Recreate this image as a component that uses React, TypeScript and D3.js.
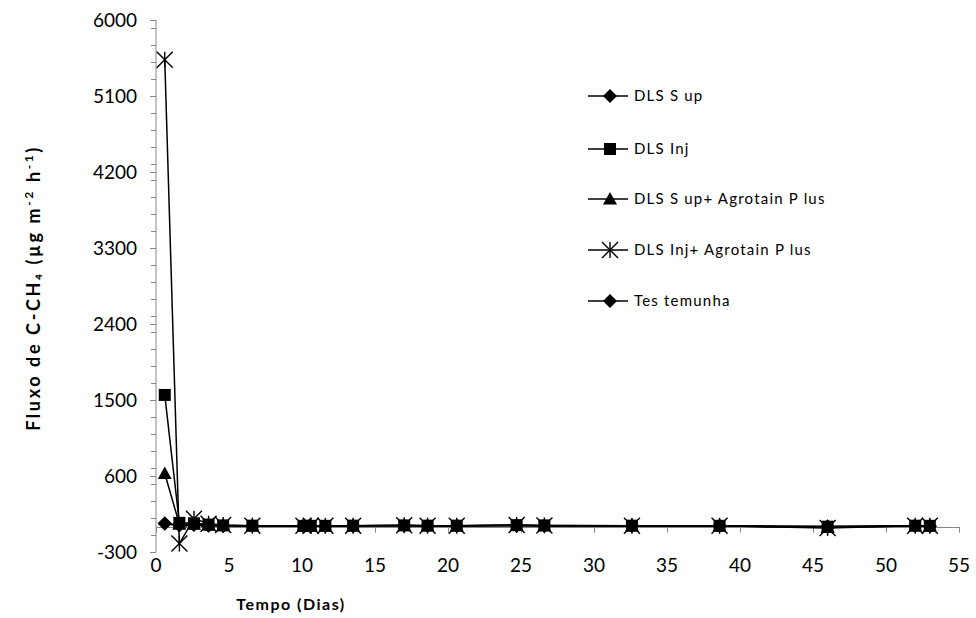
import React from "react";
import * as d3 from "d3";

// Sampling days (Tempo, dias)
const days = [0.6, 1.6, 2.6, 3.6, 4.6, 6.6, 10.1, 10.6, 11.6, 13.5, 17, 18.6, 20.6, 24.7, 26.6, 32.6, 38.6, 46, 52, 53];

// C-CH4 flux per treatment (µg m-2 h-1)
const dlsSup = [40, 20, 25, 15, 10, 10, 8, 8, 8, 10, 15, 12, 10, 15, 12, 10, 10, 5, 10, 8];
const dlsInj = [1560, 45, 40, 25, 15, 12, 10, 10, 10, 12, 15, 12, 12, 18, 15, 12, 10, 0, 12, 10];
const dlsSupAgro = [630, 30, 30, 20, 15, 10, 10, 8, 10, 10, 15, 12, 10, 15, 12, 10, 10, -10, 10, 8];
const dlsInjAgro = [5530, -200, 95, 35, 20, 12, 10, 10, 10, 12, 18, 12, 12, 20, 15, 12, 10, -15, 10, 10];
const testemunha = [35, 15, 20, 10, 8, 8, 5, 5, 5, 8, 10, 8, 8, 10, 8, 8, 8, -5, 8, 6];

const seriesNames = ["DLS S up", "DLS Inj", "DLS S up+ Agrotain P lus", "DLS Inj+ Agrotain P lus", "Tes temunha"];
const seriesMarkers = ["diamond", "square", "triangle", "star", "diamond"];

const yTicks = [-300, 600, 1500, 2400, 3300, 4200, 5100, 6000];
const xTicks = [0, 5, 10, 15, 20, 25, 30, 35, 40, 45, 50, 55];

const axisColor = "#868686";
const font = "Lato, 'Open Sans', sans-serif";

function Marker({ type, x, y }: { type: string; x: number; y: number }) {
  if (type === "diamond") {
    const r = 7;
    return <path d={`M${x},${y - r}L${x + r},${y}L${x},${y + r}L${x - r},${y}Z`} fill="#000" />;
  }
  if (type === "square") {
    const h = 6;
    return <rect x={x - h} y={y - h} width={2 * h} height={2 * h} fill="#000" />;
  }
  if (type === "triangle") {
    const h = 7;
    return <path d={`M${x},${y - h}L${x + h},${y + h * 0.8}L${x - h},${y + h * 0.8}Z`} fill="#000" />;
  }
  const r = 8;
  return (
    <g stroke="#000" strokeWidth={1.4}>
      <line x1={x - r} y1={y - r} x2={x + r} y2={y + r} />
      <line x1={x - r} y1={y + r} x2={x + r} y2={y - r} />
      <line x1={x} y1={y - r} x2={x} y2={y + r} />
    </g>
  );
}

export default function App() {
  const width = 976;
  const height = 618;
  const x = d3.scaleLinear().domain([0, 55]).range([156, 959]);
  const y = d3.scaleLinear().domain([-300, 6000]).range([552, 20]);
  const minorTicks = d3.range(-300, 6001, 200);

  const allSeries = [dlsSup, dlsInj, dlsSupAgro, dlsInjAgro, testemunha];
  const line = d3
    .line<number>()
    .x((_, i) => x(days[i]))
    .y((v) => y(v));

  const legendX = 588;
  const legendRows = [96, 149, 199, 250, 301];

  return (
    <svg width={width} height={height} style={{ position: "absolute", left: 0, top: 0, background: "#fff" }}>
      {/* y axis */}
      <line x1={156} x2={156} y1={y(-300)} y2={y(6000)} stroke={axisColor} strokeWidth={1} />
      {minorTicks.map((t) => (
        <line key={"m" + t} x1={151} x2={156} y1={Math.round(y(t)) + 0.5} y2={Math.round(y(t)) + 0.5} stroke={axisColor} />
      ))}
      {yTicks.map((t) => (
        <g key={"y" + t}>
          <line x1={150} x2={156} y1={Math.round(y(t)) + 0.5} y2={Math.round(y(t)) + 0.5} stroke={axisColor} />
          <text x={137} y={y(t)} dy="0.36em" textAnchor="end" fontFamily={font} fontSize={19} fill="#000">
            {t}
          </text>
        </g>
      ))}

      {/* x axis crossing at zero */}
      <line x1={156} x2={959} y1={Math.round(y(0)) + 0.5} y2={Math.round(y(0)) + 0.5} stroke={axisColor} />
      {xTicks.map((t) => (
        <g key={"x" + t}>
          <line x1={Math.round(x(t)) + 0.5} x2={Math.round(x(t)) + 0.5} y1={y(0)} y2={y(0) + 6} stroke={axisColor} />
          <text x={x(t)} y={565} dy="0.36em" textAnchor="middle" fontFamily={font} fontSize={19} fill="#000">
            {t}
          </text>
        </g>
      ))}

      {/* series */}
      {allSeries.map((vals, si) => (
        <g key={"s" + si}>
          <path d={line(vals) || ""} fill="none" stroke="#000" strokeWidth={1.5} />
          {vals.map((v, i) => (
            <Marker key={i} type={seriesMarkers[si]} x={x(days[i])} y={y(v)} />
          ))}
        </g>
      ))}

      {/* legend */}
      {seriesNames.map((name, i) => (
        <g key={"l" + i}>
          <line x1={legendX} x2={legendX + 40} y1={legendRows[i]} y2={legendRows[i]} stroke="#000" strokeWidth={1.5} />
          <Marker type={seriesMarkers[i]} x={legendX + 22} y={legendRows[i]} />
          <text x={legendX + 46} y={legendRows[i]} dy="0.36em" fontFamily={font} fontSize={15} letterSpacing={1.2} fill="#000">
            {name}
          </text>
        </g>
      ))}

      {/* axis titles */}
      <text
        transform="translate(40,288) rotate(-90)"
        textAnchor="middle"
        fontFamily={font}
        fontWeight="bold"
        fontSize={18}
        letterSpacing={2.6}
        fill="#000"
      >
        Fluxo de C-CH₄  (µg m<tspan dy={-7} fontSize={12}>-2</tspan>
        <tspan dy={7}> h</tspan>
        <tspan dy={-7} fontSize={12}>-1</tspan>
        <tspan dy={7}>)</tspan>
      </text>
      <text x={291} y={604} dy="0.36em" textAnchor="middle" fontFamily={font} fontWeight="bold" fontSize={16} letterSpacing={1.5} fill="#000">
        Tempo (Dias)
      </text>
    </svg>
  );
}
